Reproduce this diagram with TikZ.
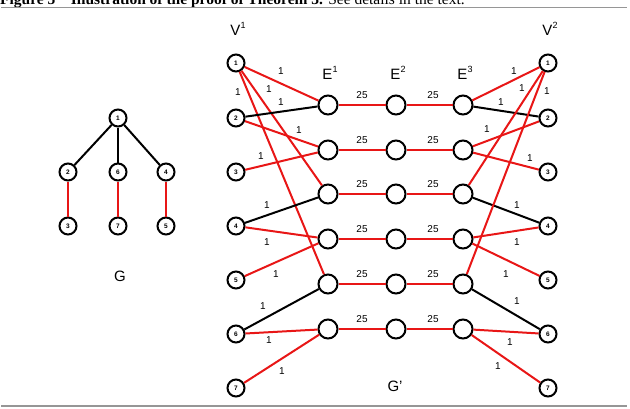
\documentclass[tikz,border=0pt]{standalone}
\usepackage{fontspec}
\setmainfont{Liberation Serif}
\setsansfont{Liberation Sans}
\usepackage{tikz}

\newcommand{\setsup}[2]{#1\raisebox{0.8ex}{\fontsize{9}{9}\selectfont #2}}
\tikzset{
  vnode/.style={circle,draw,fill=white,line width=2pt,minimum size=17pt,inner sep=0pt,font=\sffamily\bfseries\fontsize{6.5}{7}\selectfont},
  enode/.style={circle,draw,fill=white,line width=2pt,minimum size=19pt,inner sep=0pt},
  redge/.style={line width=2pt,color=edgered},
  bedge/.style={line width=2pt,color=black},
  wt/.style={font=\sffamily\fontsize{10}{11}\selectfont,inner sep=0pt},
  setlab/.style={font=\sffamily\fontsize{15}{16}\selectfont,inner sep=0pt}
}
\definecolor{edgered}{RGB}{232,22,22}
\definecolor{rulegray}{RGB}{150,150,150}

\begin{document}
\begin{tikzpicture}[x=1pt,y=-1pt]
\useasboundingbox (0,0) rectangle (630,408);
% caption and rules
\node[anchor=base west,inner sep=0pt,font=\fontsize{15.5}{16}\selectfont] (cap) at (0,4)
  {\textbf{Figure 5\quad Illustration of the proof of Theorem 3.} See details in the text.};
\draw[rulegray,line width=1.4pt] (1,7.5) -- (627,7.5);
\draw[rulegray,line width=1.4pt] (1,406) -- (627,406);

% the tree G
\node[vnode] (g1) at (118,118) {1};
\node[vnode] (g2) at (68,172) {2};
\node[vnode] (g6) at (118,172) {6};
\node[vnode] (g4) at (166,172) {4};
\node[vnode] (g3) at (68,226) {3};
\node[vnode] (g7) at (118,226) {7};
\node[vnode] (g5) at (166,226) {5};
\draw[bedge] (g1) -- (g2);
\draw[bedge] (g1) -- (g6);
\draw[bedge] (g1) -- (g4);
\draw[redge] (g2) -- (g3);
\draw[redge] (g6) -- (g7);
\draw[redge] (g4) -- (g5);
\node[setlab] (glab) at (120,276) {G};

% the graph G'
\node[setlab] (vonelab) at (238,29) {\setsup{V}{1}};
\node[setlab] (vtwolab) at (550,29) {\setsup{V}{2}};
\node[setlab] (eonelab) at (330,73) {\setsup{E}{1}};
\node[setlab] (etwolab) at (398,73) {\setsup{E}{2}};
\node[setlab] (ethreelab) at (465,73) {\setsup{E}{3}};
\node[setlab] (gplab) at (395,386) {G'};

\node[vnode] (a1) at (236,63) {1};
\node[vnode] (a2) at (236,118) {2};
\node[vnode] (a3) at (236,172) {3};
\node[vnode] (a4) at (236,226) {4};
\node[vnode] (a5) at (236,280) {5};
\node[vnode] (a6) at (236,334) {6};
\node[vnode] (a7) at (236,388) {7};

\node[vnode] (b1) at (548,63) {1};
\node[vnode] (b2) at (548,118) {2};
\node[vnode] (b3) at (548,172) {3};
\node[vnode] (b4) at (548,226) {4};
\node[vnode] (b5) at (548,280) {5};
\node[vnode] (b6) at (548,334) {6};
\node[vnode] (b7) at (548,388) {7};

\foreach \r/\y in {1/105,2/150,3/194,4/239,5/284,6/329} {
  \node[enode] (e1\r) at (328,\y) {};
  \node[enode] (e2\r) at (396,\y) {};
  \node[enode] (e3\r) at (463,\y) {};
  \draw[redge] (e1\r) -- (e2\r);
  \draw[redge] (e2\r) -- (e3\r);
  \node[wt] (w12\r) at (362,\y-10) {25};
  \node[wt] (w23\r) at (433,\y-10) {25};
}

% left side
\draw[redge] (a1) -- (e11);
\draw[redge] (a1) -- (e13);
\draw[redge] (a1) -- (e15);
\draw[bedge] (a2) -- (e11);
\draw[redge] (a2) -- (e12);
\draw[redge] (a3) -- (e12);
\draw[bedge] (a4) -- (e13);
\draw[redge] (a4) -- (e14);
\draw[redge] (a5) -- (e14);
\draw[bedge] (a6) -- (e15);
\draw[redge] (a6) -- (e16);
\draw[redge] (a7) -- (e16);
\node[wt] (la) at (281,71) {1};
\node[wt] (lb) at (269,89) {1};
\node[wt] (lc) at (238,92) {1};
\node[wt] (ld) at (281,102) {1};
\node[wt] (le) at (299,130) {1};
\node[wt] (lf) at (261,156) {1};
\node[wt] (lg) at (267,205) {1};
\node[wt] (lh) at (267,242) {1};
\node[wt] (li) at (276,274) {1};
\node[wt] (lj) at (263,306) {1};
\node[wt] (lk) at (269,340) {1};
\node[wt] (ll) at (282,371) {1};

% right side
\draw[redge] (e31) -- (b1);
\draw[bedge] (e31) -- (b2);
\draw[redge] (e32) -- (b2);
\draw[redge] (e32) -- (b3);
\draw[redge] (e33) -- (b1);
\draw[bedge] (e33) -- (b4);
\draw[redge] (e34) -- (b4);
\draw[redge] (e34) -- (b5);
\draw[redge] (e35) -- (b1);
\draw[bedge] (e35) -- (b6);
\draw[redge] (e36) -- (b6);
\draw[redge] (e36) -- (b7);
\node[wt] (ra) at (514,71) {1};
\node[wt] (rb) at (522,88) {1};
\node[wt] (rc) at (547,91) {1};
\node[wt] (rd) at (501,102) {1};
\node[wt] (re) at (487,129) {1};
\node[wt] (rf) at (530,158) {1};
\node[wt] (rg) at (517,205) {1};
\node[wt] (rh) at (517,242) {1};
\node[wt] (ri) at (506,274) {1};
\node[wt] (rj) at (517,301) {1};
\node[wt] (rk) at (510,342) {1};
\node[wt] (rl) at (498,366) {1};
\end{tikzpicture}
\end{document}
